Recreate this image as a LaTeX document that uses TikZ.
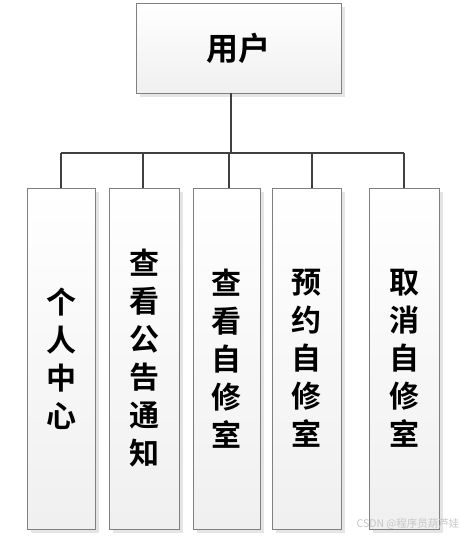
\documentclass[tikz,border=0pt]{standalone}
\usepackage{fontspec}
\newfontfamily\cjk{Noto Sans CJK SC}[BoldFont={Noto Sans CJK SC Bold}]
\usetikzlibrary{shadows}
\tikzset{
  box/.style={draw=black!50, line width=0.9pt, top color=white, bottom color=black!6,
    drop shadow={shadow xshift=4pt, shadow yshift=-4pt, fill=black!10, opacity=1},
    inner sep=0pt, font=\cjk\bfseries\fontsize{30pt}{38pt}\selectfont, align=center},
  tallbox/.style={box, minimum width=68pt, minimum height=341pt},
  link/.style={draw=black!75, line width=2.8pt}
}
\begin{document}
\begin{tikzpicture}[x=1pt,y=1pt]
\useasboundingbox (0,0) rectangle (460,-536);
\node[box, minimum width=205pt, minimum height=90pt, font=\cjk\bfseries\fontsize{32pt}{38pt}\selectfont] (u) at (238.5,-48) {用户};
\node[tallbox] (b1) at (61,-358.5) {个\\人\\中\\心};
\node[tallbox, minimum width=70pt] (b2) at (144,-358.5) {查\\看\\公\\告\\通\\知};
\node[tallbox, minimum width=67pt] (b3) at (226.5,-358.5) {查\\看\\自\\修\\室};
\node[tallbox, minimum width=69pt] (b4) at (306.5,-358.5) {预\\约\\自\\修\\室};
\node[tallbox, minimum width=70pt] (b5) at (404,-358.5) {取\\消\\自\\修\\室};
\coordinate (j0) at (231,-153);
\coordinate (j1) at (61,-153);
\coordinate (j2) at (143,-153);
\coordinate (j3) at (229,-153);
\coordinate (j4) at (312,-153);
\coordinate (j5) at (404,-153);
\draw[link] (u.south -| j0) -- (j0);
\draw[link] (j1) -- (j5);
\draw[link] (j1) -- (j1 |- b1.north);
\draw[link] (j2) -- (j2 |- b2.north);
\draw[link] (j3) -- (j3 |- b3.north);
\draw[link] (j4) -- (j4 |- b4.north);
\draw[link] (j5) -- (j5 |- b5.north);
\node[text=black!22, font=\cjk\fontsize{10.5pt}{12pt}\selectfont, inner sep=0pt] (wm) at (408,-524) {CSDN @程序员葫芦娃};
\end{tikzpicture}
\end{document}
